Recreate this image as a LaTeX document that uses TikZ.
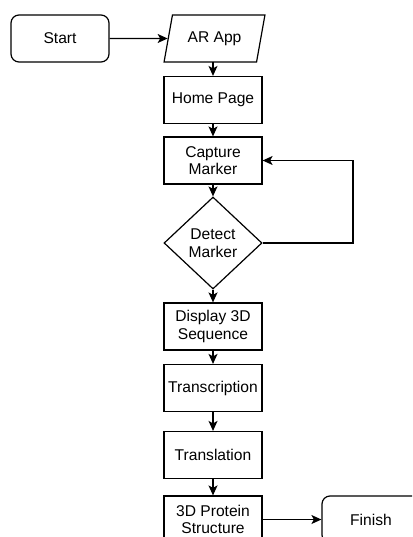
\documentclass[tikz,border=0pt]{standalone}
\usepackage{fontspec}
\setmainfont{Liberation Sans}
\usetikzlibrary{shapes.geometric,arrows.meta}
\begin{document}
\begin{tikzpicture}[x=1pt,y=-1pt,
  every node/.style={font=\fontsize{15.6}{17.5}\selectfont, align=center, inner sep=0pt},
  box/.style={draw, line width=1.2pt, minimum width=98pt, minimum height=47pt},
  term/.style={box, rounded corners=8pt},
  io/.style={draw, line width=1.2pt, trapezium, trapezium left angle=69, trapezium right angle=111,
             trapezium stretches=true, minimum width=101pt, minimum height=47pt},
  decision/.style={draw, line width=1.2pt, diamond, minimum width=98pt, minimum height=92pt},
  arr/.style={line width=1.2pt, -{Stealth[length=10pt,width=9pt,inset=2.5pt]}}]
\useasboundingbox (0,0) rectangle (412,537);
\clip (0,0) rectangle (412,537);
\fill[white] (0,0) rectangle (412,537);

% process nodes
\node[term] (start) at (60,38.5) {Start};
\node[io] (app) at (214.5,38.5) {AR App};
\node[box] (home) at (213,100) {Home Page};
\node[box] (capture) at (213,160.5) {Capture\\Marker};
\node[decision] (detect) at (213,243) {Detect\\Marker};
\node[box] (display) at (213,326.5) {Display 3D\\Sequence};
\node[box] (transcr) at (213,388) {Transcription};
\node[box] (transl) at (213,455) {Translation};
\node[box] (protein) at (213,519.5) {3D Protein\\Structure};
\node[term] (finish) at (371,519.5) {Finish};

% connectors
\draw[arr] (start.east) -- (app.west);
\draw[arr] (213,62) -- (home.north);
\draw[arr] (home.south) -- (capture.north);
\draw[arr] (capture.south) -- (detect.north);
\coordinate (loop) at (353,243);
\draw[arr] (detect.east) -- (loop) |- (capture.east);
\draw[arr] (detect.south) -- (display.north);
\draw[arr] (display.south) -- (transcr.north);
\draw[arr] (transcr.south) -- (transl.north);
\draw[arr] (transl.south) -- (protein.north);
\draw[arr] (protein.east) -- (finish.west);
\end{tikzpicture}
\end{document}
